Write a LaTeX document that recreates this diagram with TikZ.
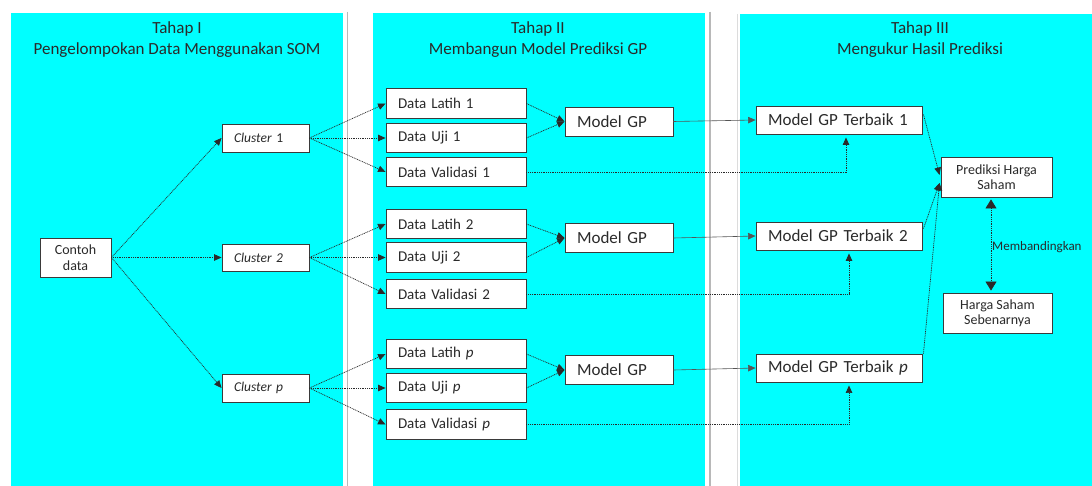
\documentclass[tikz,border=0pt]{standalone}
\usepackage{fontspec}
\setmainfont{Carlito}
\usetikzlibrary{arrows.meta,calc}
\definecolor{cy}{HTML}{00FFFF}
\definecolor{ink}{HTML}{2A2A2A}
\definecolor{boxc}{HTML}{3A3A3A}
\definecolor{grayln}{HTML}{B8B8B8}
\newcommand\fs[2]{\fontsize{#1}{#2}\selectfont}
\begin{document}
\begin{tikzpicture}[x=1pt,y=-1pt,
  box/.style={draw=boxc, fill=white, line width=0.9pt, inner xsep=12pt, inner ysep=0pt, align=left, text=ink},
  cbox/.style={draw=boxc, fill=white, line width=0.9pt, inner sep=0pt, align=center, text=ink},
  title/.style={text=ink, font=\fs{17}{20}, inner sep=0pt},
  tip/.style={-{Triangle[length=7.5pt,width=6.5pt]}},
  dotl/.style={draw=ink, line width=0.7pt, dash pattern=on 1pt off 0.8pt},
  soll/.style={draw=ink!80, line width=0.6pt}
]
\useasboundingbox (0,0) rectangle (1092,486);
\fill[white] (0,0) rectangle (1092,486);
% panels
\fill[cy] (11,13) rectangle (343,486);
\fill[cy] (373,13) rectangle (705,486);
\fill[cy] (740,14) rectangle (1092,486);
\draw[grayln, line width=1.2pt] (347.5,12) -- (347.5,486);
\draw[grayln, line width=1.2pt] (710,12) -- (710,486);
\draw[grayln!50, line width=0.8pt] (737.5,14) -- (737.5,486);
% titles
\node[title] (t1a) at (177,29) {Tahap I};
\node[title] (t1b) at (177,50) {Pengelompokan Data Menggunakan SOM};
\node[title] (t2a) at (538,29) {Tahap II};
\node[title] (t2b) at (538,50) {Membangun Model Prediksi GP};
\node[title] (t3a) at (920,29) {Tahap III};
\node[title] (t3b) at (920,50) {Mengukur Hasil Prediksi};
% stage I
\node[cbox, font=\fs{14}{15.5}, minimum width=71pt, minimum height=39pt] (cd) at (75.5,257.5) {Contoh\\data};
\node[box, font=\fs{13.5}{16}, text width=63pt, minimum height=28pt] (c1) at (265.5,138) {\textit{Cluster} 1};
\node[box, font=\fs{13.5}{16}, text width=63pt, minimum height=27pt] (c2) at (265.5,257.5) {\textit{Cluster 2}};
\node[box, font=\fs{13.5}{16}, text width=63pt, minimum height=28pt] (cp) at (265.5,388) {\textit{Cluster p}};
% stage II data boxes
\tikzset{dbox/.style={box, font=\fs{15}{18}, text width=116pt, minimum height=29.5pt}}
\node[dbox] (dl1) at (456,103.5) {Data Latih 1};
\node[dbox] (du1) at (456,138) {Data Uji 1};
\node[dbox] (dv1) at (456,172) {Data Validasi 1};
\node[dbox] (dl2) at (456,224) {Data Latih 2};
\node[dbox] (du2) at (456,257.5) {Data Uji 2};
\node[dbox] (dv2) at (456,294) {Data Validasi 2};
\node[dbox] (dlp) at (456,354) {Data Latih \textit{p}};
\node[dbox] (dup) at (456,388) {Data Uji \textit{p}};
\node[dbox] (dvp) at (456,424.5) {Data Validasi \textit{p}};
\tikzset{mbox/.style={box, font=\fs{17}{20}, text width=84pt, minimum height=29pt}}
\node[mbox] (m1) at (619,121.5) {Model GP};
\node[mbox] (m2) at (619,238) {Model GP};
\node[mbox] (mp) at (619,370) {Model GP};
% stage III
\tikzset{tbox/.style={box, font=\fs{17}{20}, text width=142pt, minimum height=28pt}}
\node[tbox] (b1) at (839,120) {Model GP Terbaik 1};
\node[tbox] (b2) at (839,236) {Model GP Terbaik 2};
\node[tbox] (bp) at (839,368) {Model GP Terbaik \textit{p}};
\node[cbox, font=\fs{14}{15}, minimum width=111pt, minimum height=40pt] (pred) at (996.5,177) {Prediksi Harga\\Saham};
\node[cbox, font=\fs{14}{15}, minimum width=109pt, minimum height=40pt] (hs) at (997.5,313) {Harga Saham\\Sebenarnya};
% connectors stage I
\draw[dotl, tip] (cd.east) -- (c1.west);
\draw[dotl, tip] (cd.east) -- (c2.west);
\draw[dotl, tip] (cd.east) -- (cp.west);
\foreach \c/\a/\b/\v in {c1/dl1/du1/dv1, c2/dl2/du2/dv2, cp/dlp/dup/dvp}{
  \draw[dotl, tip] (\c.east) -- (\a.west);
  \draw[dotl, tip] (\c.east) -- (\b.west);
  \draw[dotl, tip] (\c.east) -- (\v.west);
}
\foreach \a/\b/\m in {dl1/du1/m1, dl2/du2/m2, dlp/dup/mp}{
  \draw[dotl, tip] (\a.east) -- (\m.west);
  \draw[dotl, tip] (\b.east) -- (\m.west);
}
\draw[soll, tip] (m1.east) -- (b1.west);
\draw[soll, tip] (m2.east) -- (b2.west);
\draw[soll, tip] (mp.east) -- (bp.west);
\draw[dotl, tip] (dv1.east) -- (dv1.east -| 846,0) -- ($(b1.south -| 846,0)+(0,3)$);
\draw[dotl, tip] (dv2.east) -- (dv2.east -| 849,0) -- ($(b2.south -| 849,0)+(0,3)$);
\draw[dotl, tip] (dvp.east) -- (dvp.east -| 849,0) -- ($(bp.south -| 849,0)+(0,3)$);
\draw[dotl, tip] ($(b1.north east)+(1,9)$) -- ($(pred.west)+(-1,-2)$);
\draw[dotl, tip] ($(b2.north east)+(1,7)$) -- ($(pred.west)+(-1,6)$);
\draw[dotl, tip] ($(bp.north east)+(1,0)$) -- ($(pred.west)+(-1,6)$);
\draw[dotl, {Triangle[length=9pt,width=11pt]}-{Triangle[length=9pt,width=11pt]}] ($(pred.south)+(-5.5,2)$) -- ($(hs.north)+(-6.5,-2)$);
\node[anchor=west, text=ink, font=\fs{13}{15}, inner sep=0pt] (mb) at (992,247) {Membandingkan};
\end{tikzpicture}
\end{document}
